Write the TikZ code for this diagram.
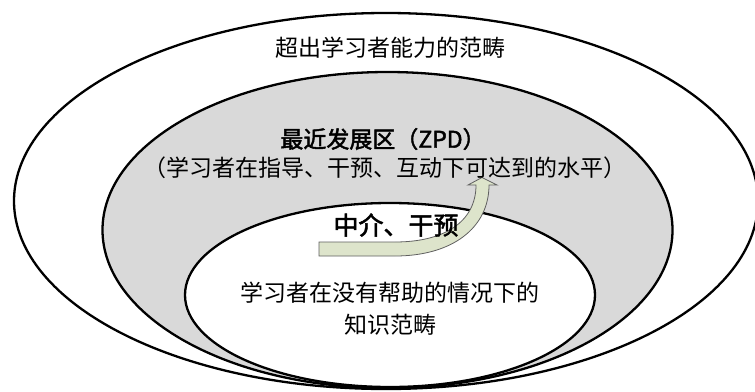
\documentclass[tikz,border=0pt]{standalone}
\usepackage{fontspec}
\newfontfamily\cjk{Noto Sans CJK SC}
\newfontfamily\cjkfb[FakeBold=2]{Noto Sans CJK SC}
\definecolor{zpdgray}{RGB}{217,217,217}
\definecolor{arrowfill}{RGB}{221,228,203}
\definecolor{arrowline}{RGB}{96,96,96}
\begin{document}
\begin{tikzpicture}[x=1pt,y=-1pt,
  ring/.style={draw=black,line width=2.3pt},
  lbl/.style={font=\cjk\fontsize{23}{28}\selectfont,inner sep=0pt,align=center},
  lblb/.style={font=\cjkfb\fontsize{23}{28}\selectfont,inner sep=0pt,align=center}]
\useasboundingbox (0,0) rectangle (755,391);
% outer region
\draw[ring,fill=white] (386,201) ellipse [x radius=372, y radius=188];
% ZPD region
\draw[ring,fill=zpdgray] (387.5,230) ellipse [x radius=285, y radius=158];
% inner region
\draw[ring,fill=white] (390,295) ellipse [x radius=205, y radius=92];
% curved arrow
\draw[draw=arrowline,line width=0.8pt,fill=arrowfill,line join=miter]
  (319,256) -- (395,256)
  .. controls (452,256) and (489,228) .. (489,185)
  -- (497,185) -- (482,177.5) -- (468,185) -- (476,185)
  .. controls (476,222) and (444,242) .. (395,242)
  -- (319,242) -- cycle;
% texts
\node[lbl] (beyond) at (390,48) {超出学习者能力的范畴};
\node[lblb] (zpd) at (383,139) {最近发展区（ZPD）};
\node[lbl] (zpddesc) at (385,168) {（学习者在指导、干预、互动下可达到的水平）};
\node[lblb,font=\cjkfb\fontsize{25}{28}\selectfont] (mediate) at (396,225) {中介、干预};
\node[lbl] (own1) at (390,293) {学习者在没有帮助的情况下的};
\node[lbl] (own2) at (390,325) {知识范畴};
\end{tikzpicture}
\end{document}
